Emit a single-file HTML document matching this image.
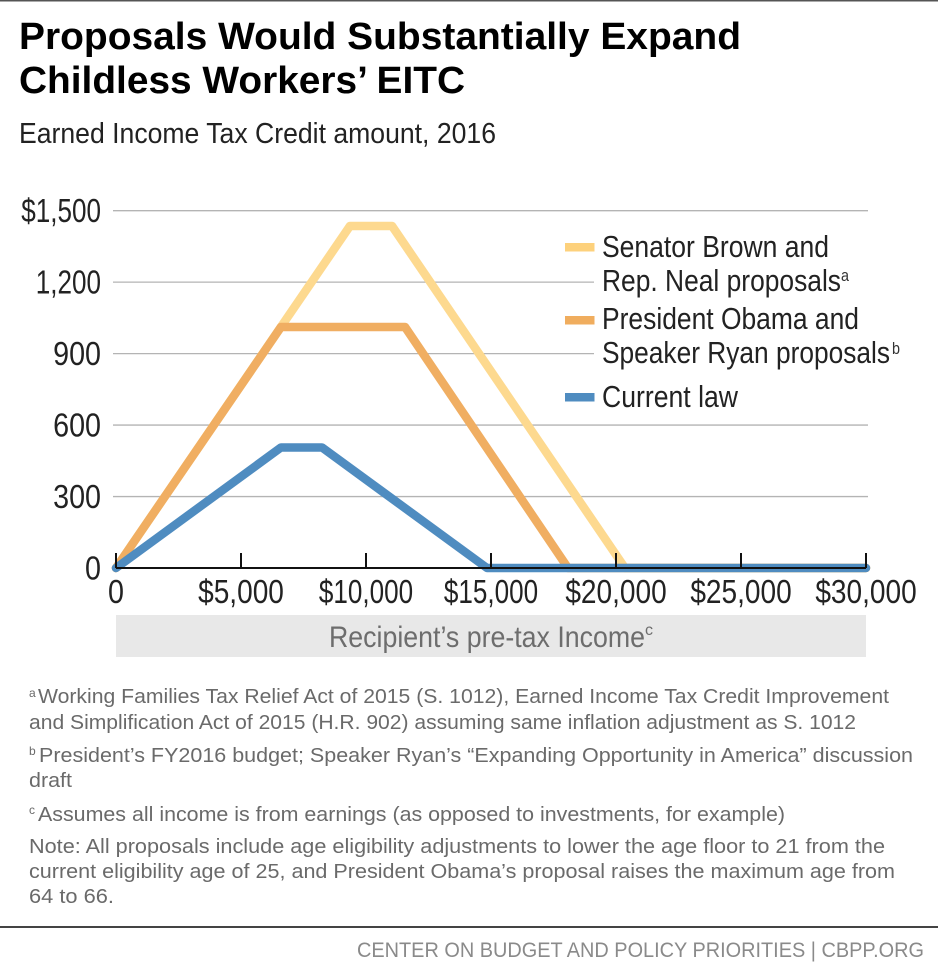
<!DOCTYPE html>
<html lang="en">
<head>
<meta charset="utf-8">
<title>Proposals Would Substantially Expand Childless Workers' EITC</title>
<style>
html,body{margin:0;padding:0;background:#fff;width:938px;height:964px;overflow:hidden}
svg{display:block}
text{font-family:"Liberation Sans",sans-serif}
.note{font-size:20px;fill:#6a6a6a}
.leg{font-size:31px;fill:#222}
.sup{font-size:17px;fill:#333}
.nsup{font-size:12px;fill:#6a6a6a}
</style>
</head>
<body>
<svg id="chart" xmlns="http://www.w3.org/2000/svg" width="938" height="964" viewBox="0 0 938 964">
  <rect x="0" y="0" width="938" height="1.5" fill="#555"/>
  <text x="19" y="49" font-size="38" font-weight="700" fill="#000" textLength="722" lengthAdjust="spacingAndGlyphs">Proposals Would Substantially Expand</text>
  <text x="19" y="93" font-size="38" font-weight="700" fill="#000" textLength="446" lengthAdjust="spacingAndGlyphs">Childless Workers’ EITC</text>
  <text x="19" y="143" font-size="29" fill="#222" textLength="477" lengthAdjust="spacingAndGlyphs">Earned Income Tax Credit amount, 2016</text>

  <g id="grid"></g>
  <rect x="594" y="232" width="300" height="182" fill="#fff"/>
  <g id="series"></g>
  <g id="axis"></g>
  <g id="ylabels"></g>
  <g id="xlabels"></g>

  <g>
    <rect x="565" y="243" width="29.500" height="8.500" fill="#fdd17c"/>
    <text class="leg" x="602" y="257" textLength="227" lengthAdjust="spacingAndGlyphs">Senator Brown and</text>
    <text class="leg" x="602" y="291" textLength="239" lengthAdjust="spacingAndGlyphs">Rep. Neal proposals</text>
    <text class="sup" x="841" y="281" textLength="8" lengthAdjust="spacingAndGlyphs">a</text>
    <rect x="565" y="316" width="29.500" height="8.500" fill="#f0ad5e"/>
    <text class="leg" x="602" y="329" textLength="257" lengthAdjust="spacingAndGlyphs">President Obama and</text>
    <text class="leg" x="602" y="363" textLength="288" lengthAdjust="spacingAndGlyphs">Speaker Ryan proposals</text>
    <text class="sup" x="892" y="354" textLength="8" lengthAdjust="spacingAndGlyphs">b</text>
    <rect x="565" y="393" width="29.500" height="8.500" fill="#4f8cc0"/>
    <text class="leg" x="602" y="407" textLength="136" lengthAdjust="spacingAndGlyphs">Current law</text>
  </g>

  <rect x="116" y="615" width="750" height="42" fill="#e8e8e8"/>
  <text x="329" y="647" font-size="30" fill="#6d6d6d" textLength="316" lengthAdjust="spacingAndGlyphs">Recipient’s pre-tax Income</text>
  <text x="645" y="635" font-size="16" fill="#6d6d6d" textLength="8" lengthAdjust="spacingAndGlyphs">c</text>

  <g>
    <text class="nsup" x="29" y="697">a</text>
    <text class="note" x="38" y="703" textLength="851" lengthAdjust="spacingAndGlyphs">Working Families Tax Relief Act of 2015 (S. 1012), Earned Income Tax Credit Improvement</text>
    <text class="note" x="29" y="729" textLength="827" lengthAdjust="spacingAndGlyphs">and Simplification Act of 2015 (H.R. 902) assuming same inflation adjustment as S. 1012</text>
    <text class="nsup" x="29" y="755">b</text>
    <text class="note" x="39" y="762" textLength="874" lengthAdjust="spacingAndGlyphs">President’s FY2016 budget; Speaker Ryan’s “Expanding Opportunity in America” discussion</text>
    <text class="note" x="29" y="787" textLength="43" lengthAdjust="spacingAndGlyphs">draft</text>
    <text class="nsup" x="29" y="814">c</text>
    <text class="note" x="38" y="821" textLength="747" lengthAdjust="spacingAndGlyphs">Assumes all income is from earnings (as opposed to investments, for example)</text>
    <text class="note" x="29" y="853" textLength="856" lengthAdjust="spacingAndGlyphs">Note: All proposals include age eligibility adjustments to lower the age floor to 21 from the</text>
    <text class="note" x="29" y="878" textLength="866" lengthAdjust="spacingAndGlyphs">current eligibility age of 25, and President Obama’s proposal raises the maximum age from</text>
    <text class="note" x="29" y="903" textLength="85" lengthAdjust="spacingAndGlyphs">64 to 66.</text>
  </g>

  <rect x="0" y="926" width="938" height="2" fill="#444"/>
  <text x="357" y="957" font-size="21" fill="#8a8a8a" textLength="567" lengthAdjust="spacingAndGlyphs">CENTER ON BUDGET AND POLICY PRIORITIES | CBPP.ORG</text>
</svg>

<script>
const yTickValues = [0, 300, 600, 900, 1200, 1500];
const yTickLabels = ["0", "300", "600", "900", "1,200", "$1,500"];
const xTickValues = [0, 5000, 10000, 15000, 20000, 25000, 30000];
const xTickLabels = ["0", "$5,000", "$10,000", "$15,000", "$20,000", "$25,000", "$30,000"];

const brownNealIncome = [0, 9360, 11040, 20360, 30000];
const brownNealCredit = [0, 1436, 1436, 0, 0];
const obamaRyanIncome = [0, 6600, 11560, 18080, 30000];
const obamaRyanCredit = [0, 1012, 1012, 0, 0];
const currentLawIncome = [0, 6600, 8240, 14840, 30000];
const currentLawCredit = [0, 506, 506, 0, 0];

const NS = "http://www.w3.org/2000/svg";
const xScale = v => 116 + v / 30000 * 750;
const yScale = v => 568 - v / 1500 * 357.3;
const make = (tag, parent) => {
  const el = document.createElementNS(NS, tag);
  parent.appendChild(el);
  return el;
};
/* The reference face sets the digit 1 much narrower than its other digits. */
const condense = label => (label.includes("1") ? 0.79 : (label.includes(",") ? 0.85 : 0.87));

const grid = document.getElementById("grid");
yTickValues.forEach(v => {
  if (v === 0) return;
  const line = make("line", grid);
  
  
  line.setAttribute("x1", 113);
  line.setAttribute("x2", 868);
  line.setAttribute("y1", yScale(v));
  line.setAttribute("y2", yScale(v));
  line.setAttribute("stroke", "#b4b4b4");
  line.setAttribute("stroke-width", 1.3);
});

const seriesGroup = document.getElementById("series");
const drawSeries = (xs, ys, color, name) => {
  const p = make("polyline", seriesGroup);
  
  
  p.setAttribute("points", xs.map((x, i) => xScale(x) + "," + yScale(ys[i])).join(" "));
  p.setAttribute("fill", "none");
  p.setAttribute("stroke", color);
  p.setAttribute("stroke-width", 8.5);
  p.setAttribute("stroke-linejoin", "round");
  p.setAttribute("stroke-linecap", "round");
};
drawSeries(brownNealIncome, brownNealCredit, "#fdd98f", "series-brown-neal");
drawSeries(obamaRyanIncome, obamaRyanCredit, "#f0ae62", "series-obama-ryan");
drawSeries(currentLawIncome, currentLawCredit, "#4f8cc0", "series-current-law");

const axis = document.getElementById("axis");
const baseline = make("line", axis);


baseline.setAttribute("x1", xScale(0));
baseline.setAttribute("x2", xScale(30000));
baseline.setAttribute("y1", yScale(0));
baseline.setAttribute("y2", yScale(0));
baseline.setAttribute("stroke", "#111");
baseline.setAttribute("stroke-width", 2);

xTickValues.forEach(v => {
  const t = make("line", axis);
  
  
  t.setAttribute("x1", xScale(v));
  t.setAttribute("x2", xScale(v));
  t.setAttribute("y1", yScale(0) - 15);
  t.setAttribute("y2", yScale(0));
  t.setAttribute("stroke", "#111");
  t.setAttribute("stroke-width", 2);
});

const ylabels = document.getElementById("ylabels");
yTickValues.forEach((v, i) => {
  const t = make("text", ylabels);
  
  
  t.textContent = yTickLabels[i];
  t.setAttribute("font-size", 33);
  t.setAttribute("fill", "#222");
  t.setAttribute("text-anchor", "end");
  t.setAttribute("transform", "translate(101," + (yScale(v) + 11.5) + ") scale(" + condense(yTickLabels[i]) + ",1)");
});

const xlabels = document.getElementById("xlabels");
xTickValues.forEach((v, i) => {
  const t = make("text", xlabels);
  
  
  t.textContent = xTickLabels[i];
  t.setAttribute("font-size", 33);
  t.setAttribute("fill", "#222");
  t.setAttribute("text-anchor", "middle");
  t.setAttribute("transform", "translate(" + xScale(v) + ",603) scale(" + condense(xTickLabels[i]) + ",1)");
});
</script>
</body>
</html>
